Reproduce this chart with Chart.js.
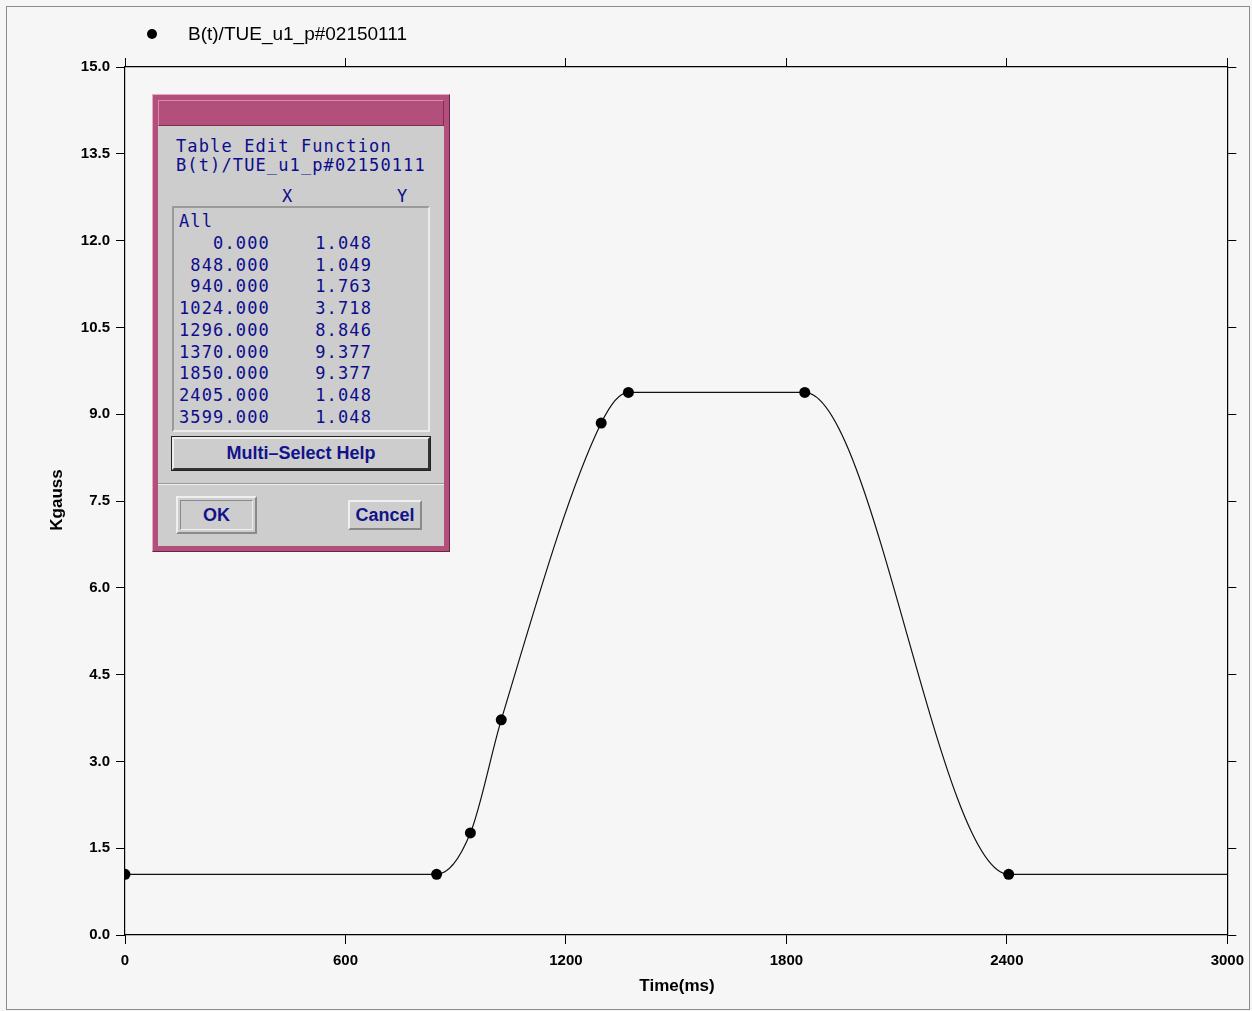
<!DOCTYPE html>
<html>
<head>
<meta charset="utf-8">
<script src="https://cdn.jsdelivr.net/npm/chart.js@4/dist/chart.umd.min.js"></script>
<style>
  body { margin: 0; background: #f6f6f6; }
  #wrap { position: relative; width: 1252px; height: 1011px; }
  #chart { position: absolute; left: 0; top: 0; }
  .abs { position: absolute; box-sizing: border-box; }
  #dlg { left: 152px; top: 94px; width: 298px; height: 458px; background: #b24f7b;
         border: 1px solid; border-color: #e6a9c5 #6a2344 #6a2344 #e6a9c5; }
  #titlebar { left: 158px; top: 100px; width: 286px; height: 26px; background: #b24f7b;
         border: 1px solid; border-color: #d98aae #7d2e52 #7d2e52 #d98aae; }
  #dbody { left: 158px; top: 126px; width: 286px; height: 420px; background: #cdcdcd; }
  .mono { font-family: "DejaVu Sans Mono", monospace; font-size: 17px; letter-spacing: 1.12px;
          color: #0c0c8c; white-space: pre; line-height: 20px; }
  .sans { font-family: "Liberation Sans", Arial, sans-serif; font-weight: bold; font-size: 18px;
          color: #12128c; white-space: pre; text-align: center; }
  #panel { left: 172px; top: 206px; width: 258px; height: 226px;
           border: 2px solid; border-color: #9a9a9a #ececec #ececec #9a9a9a; }
  #rows { left: 179px; top: 211px; line-height: 21.75px; }
  #help { left: 172px; top: 437px; width: 258px; height: 33px; background: #cdcdcd;
          border: 2px solid; border-color: #eeeeee #333333 #333333 #eeeeee;
          outline: 1px solid #222; line-height: 29px; }
  #sep { left: 158px; top: 483px; width: 286px; height: 2px;
         border-top: 1px solid #9a9a9a; border-bottom: 1px solid #efefef; }
  #ok { left: 176px; top: 496px; width: 81px; height: 38px;
        border: 2px solid; border-color: #efefef #8a8a8a #8a8a8a #efefef; }
  #okin { left: 180px; top: 500px; width: 73px; height: 30px; line-height: 28px;
          border: 1px solid; border-color: #8a8a8a #efefef #efefef #8a8a8a; }
  #cancel { left: 348px; top: 500px; width: 74px; height: 30px; line-height: 26px;
            border: 2px solid; border-color: #efefef #8a8a8a #8a8a8a #efefef; }
</style>
</head>
<body>
<div id="wrap">
  <canvas id="chart" width="1252" height="1011"></canvas>
  <div id="dlg" class="abs"></div>
  <div id="titlebar" class="abs"></div>
  <div id="dbody" class="abs"></div>
  <div class="abs mono" style="left:176px;top:136px;">Table Edit Function</div>
  <div class="abs mono" style="left:176px;top:155px;">B(t)/TUE_u1_p#02150111</div>
  <div class="abs mono" style="left:282px;top:186px;">X</div>
  <div class="abs mono" style="left:397px;top:186px;">Y</div>
  <div id="panel" class="abs"></div>
  <div id="rows" class="abs mono"></div>
  <div id="help" class="abs sans">Multi–Select Help</div>
  <div id="sep" class="abs"></div>
  <div id="ok" class="abs"></div>
  <div id="okin" class="abs sans">OK</div>
  <div id="cancel" class="abs sans">Cancel</div>
</div>
<script>
const seriesName = "B(t)/TUE_u1_p#02150111";
const timeMs = [0, 848, 940, 1024, 1296, 1370, 1850, 2405, 3599];
const kgauss = [1.048, 1.049, 1.763, 3.718, 8.846, 9.377, 9.377, 1.048, 1.048];
const xTicks = [0, 600, 1200, 1800, 2400, 3000];
const yTicks = [0, 1.5, 3, 4.5, 6, 7.5, 9, 10.5, 12, 13.5, 15];

// table rows in the edit dialog come from the same data
const pad = (s, n) => " ".repeat(Math.max(0, n - s.length)) + s;
document.getElementById("rows").textContent = "All\n" +
  timeMs.map((t, i) => pad(t.toFixed(3), 8) + "    " + kgauss[i].toFixed(3)).join("\n");

const ink = "#000";

const decor = {
  id: "decor",
  beforeDraw(chart) {
    const ctx = chart.ctx;
    ctx.save();
    ctx.fillStyle = "#f6f6f6";
    ctx.fillRect(0, 0, chart.width, chart.height);
    ctx.restore();
  },
  afterDraw(chart) {
    const ctx = chart.ctx;
    ctx.save();
    // outer frame
    ctx.strokeStyle = "#8c8c8c";
    ctx.lineWidth = 1;
    ctx.strokeRect(6.5, 6.5, 1243, 1003);

    // legend
    ctx.fillStyle = ink;
    ctx.beginPath();
    ctx.arc(152, 34, 5, 0, Math.PI * 2);
    ctx.fill();
    ctx.font = "19px 'Liberation Sans', Arial, sans-serif";
    ctx.textBaseline = "middle";
    ctx.fillText(seriesName, 188, 35);

    // axis titles
    ctx.font = "bold 17px 'Liberation Sans', Arial, sans-serif";
    ctx.textAlign = "center";
    ctx.fillText("Time(ms)", 677, 986);
    ctx.translate(57, 500);
    ctx.rotate(-Math.PI / 2);
    ctx.fillText("Kgauss", 0, 0);
    ctx.restore();
  }
};

const axisCommon = {
  type: "linear",
  grid: { drawOnChartArea: false, color: ink, tickLength: 9, lineWidth: 1 },
  border: { color: ink, width: 1.2 }
};
const tickFont = { family: "'Liberation Sans', Arial", size: 15, weight: "bold" };

new Chart(document.getElementById("chart"), {
  type: "line",
  data: {
    datasets: [{
      label: seriesName,
      data: timeMs.map((t, i) => ({ x: t, y: kgauss[i] })),
      borderColor: "#111",
      borderWidth: 1.2,
      cubicInterpolationMode: "monotone",
      pointRadius: 5.5,
      pointBackgroundColor: ink,
      pointBorderWidth: 0,
      fill: false
    }]
  },
  options: {
    responsive: false,
    animation: false,
    layout: { padding: { left: 0, top: 0, bottom: 0, right: -2 } },
    plugins: { legend: { display: false }, tooltip: { enabled: false } },
    scales: {
      x: {
        ...axisCommon, position: "bottom", min: 0, max: 3000,
        afterBuildTicks: s => { s.ticks = xTicks.map(v => ({ value: v })); },
        ticks: { color: ink, padding: 8, font: tickFont, callback: v => String(v) },
        afterFit: s => { s.height = 76; }
      },
      xTop: {
        ...axisCommon, position: "top", min: 0, max: 3000,
        afterBuildTicks: s => { s.ticks = xTicks.map(v => ({ value: v })); },
        ticks: { display: false },
        afterFit: s => { s.height = 67; }
      },
      y: {
        ...axisCommon, position: "left", min: 0, max: 15,
        afterBuildTicks: s => { s.ticks = yTicks.map(v => ({ value: v })); },
        ticks: { color: ink, padding: 6, callback: v => v.toFixed(1), font: tickFont },
        afterFit: s => { s.width = 125; }
      },
      yRight: {
        ...axisCommon, position: "right", min: 0, max: 15,
        afterBuildTicks: s => { s.ticks = yTicks.map(v => ({ value: v })); },
        ticks: { display: false },
        afterFit: s => { s.width = 17; }
      }
    }
  },
  plugins: [decor]
});
</script>
</body>
</html>
